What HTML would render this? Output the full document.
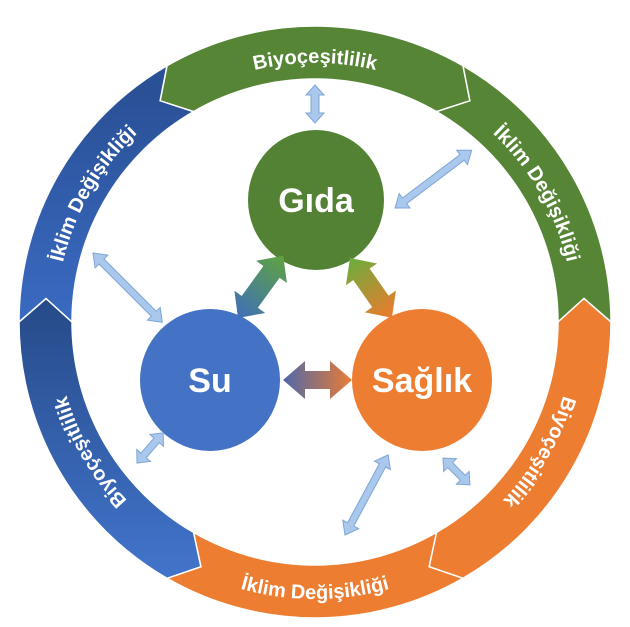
<!DOCTYPE html>
<html><head><meta charset="utf-8"><style>
html,body{margin:0;padding:0;background:#fff;}
svg{display:block;}
text{font-family:"Liberation Sans",sans-serif;font-weight:bold;fill:#fff;}
</style></head><body>
<svg width="630" height="627" viewBox="0 0 630 627" xmlns="http://www.w3.org/2000/svg">
<defs>
<linearGradient id="bU" x1="0" y1="322" x2="0" y2="90" gradientUnits="userSpaceOnUse"><stop offset="0" stop-color="#3a6bc2"/><stop offset="1" stop-color="#2a5096"/></linearGradient>
<linearGradient id="bL" x1="0" y1="300" x2="0" y2="560" gradientUnits="userSpaceOnUse"><stop offset="0" stop-color="#264a88"/><stop offset="1" stop-color="#4072c8"/></linearGradient>
<linearGradient id="g7" x1="0" y1="0" x2="77" y2="0" gradientUnits="userSpaceOnUse"><stop offset="0" stop-color="#3f6fba"/><stop offset="1" stop-color="#5fa340"/></linearGradient>
<linearGradient id="g8" x1="0" y1="0" x2="73" y2="0" gradientUnits="userSpaceOnUse"><stop offset="0" stop-color="#6aae3e"/><stop offset="1" stop-color="#ef7a2c"/></linearGradient>
<linearGradient id="g9" x1="0" y1="0" x2="69" y2="0" gradientUnits="userSpaceOnUse"><stop offset="0" stop-color="#5068a8"/><stop offset="1" stop-color="#e87c35"/></linearGradient>
<path id="pTop" d="M185.5,97.6 A259,259 0 0 1 444.5,97.6"/>
<path id="pRU" d="M444.5,97.6 A259,259 0 0 1 574,322"/>
<path id="pRL" d="M574,322 A259,259 0 0 1 444.5,546.3"/>
<path id="pLL" d="M185.5,546.3 A259,259 0 0 1 56,322"/>
<path id="pLU" d="M56,322 A259,259 0 0 1 185.5,97.6"/>
<path id="pBot" d="M176.5,561.9 A277,277 0 0 0 453.5,561.9"/>
</defs>
<g stroke="#fff" stroke-width="1.5">
<path fill="#568536" d="M167,65.7 A296,296 0 0 1 463,65.7 L469.9,100.8 L436.5,111.6 A243,243 0 0 0 193.5,111.6 L160.1,100.8 Z"/>
<path fill="#568536" d="M463,65.7 A296,296 0 0 1 611,322 L584,298.5 L558,322 A243,243 0 0 0 436.5,111.6 L469.9,100.8 Z"/>
<path fill="#ed7d31" d="M611,322 A296,296 0 0 1 463,578.3 L429.1,566.7 L436.5,532.4 A243,243 0 0 0 558,322 L584,298.5 Z"/>
<path fill="#ed7d31" d="M463,578.3 A296,296 0 0 1 167,578.3 L200.9,566.7 L193.5,532.4 A243,243 0 0 0 436.5,532.4 L429.1,566.7 Z"/>
<path fill="url(#bL)" d="M167,578.3 A296,296 0 0 1 19,322 L46,298.5 L72,322 A243,243 0 0 0 193.5,532.4 L200.9,566.7 Z"/>
<path fill="url(#bU)" d="M19,322 A296,296 0 0 1 167,65.7 L160.1,100.8 L193.5,111.6 A243,243 0 0 0 72,322 L46,298.5 Z"/>
</g>
<g font-size="20">
<text><textPath href="#pTop" startOffset="50%" text-anchor="middle">Biyoçeşitlilik</textPath></text>
<text><textPath href="#pRU" startOffset="50%" text-anchor="middle">İklim Değişikliği</textPath></text>
<text><textPath href="#pRL" startOffset="50%" text-anchor="middle">Biyoçeşitlilik</textPath></text>
<text><textPath href="#pLL" startOffset="50%" text-anchor="middle">Biyoçeşitlilik</textPath></text>
<text><textPath href="#pLU" startOffset="50%" text-anchor="middle">İklim Değişikliği</textPath></text>
<text><textPath href="#pBot" startOffset="50%" text-anchor="middle">İklim Değişikliği</textPath></text>
</g>
<ellipse cx="316" cy="200" rx="68" ry="70" fill="#548235"/>
<ellipse cx="210" cy="380" rx="70" ry="71" fill="#4472c4"/>
<ellipse cx="422" cy="380" rx="70" ry="71" fill="#ed7d31"/>
<text x="316" y="212" font-size="34" text-anchor="middle">Gıda</text>
<text x="210" y="392" font-size="34" text-anchor="middle">Su</text>
<text x="422" y="392" font-size="34" text-anchor="middle">Sağlık</text>
<g fill="#a9c8ec" stroke="#7ea6d8" stroke-width="1">
<polygon transform="translate(315,85) rotate(90)" points="0,0 10,-9 10,-4 28,-4 28,-9 38,0 28,9 28,4 10,4 10,9"/>
<polygon transform="translate(395,208) rotate(-37)" points="0,0 12,-9 12,-3.5 84,-3.5 84,-9 96,0 84,9 84,3.5 12,3.5 12,9"/>
<polygon transform="translate(93,253) rotate(45)" points="0,0 12,-9 12,-3.5 86,-3.5 86,-9 98,0 86,9 86,3.5 12,3.5 12,9"/>
<polygon transform="translate(137,463) rotate(-49)" points="0,0 10,-9 10,-3.5 30,-3.5 30,-9 40,0 30,9 30,3.5 10,3.5 10,9"/>
<polygon transform="translate(345,535) rotate(-61.7)" points="0,0 12,-9 12,-3.5 79,-3.5 79,-9 91,0 79,9 79,3.5 12,3.5 12,9"/>
<polygon transform="translate(443,458) rotate(45)" points="0,0 10,-9 10,-3.5 28,-3.5 28,-9 38,0 28,9 28,3.5 10,3.5 10,9"/>
</g>
<polygon fill="url(#g7)" transform="translate(238,318) rotate(-54)" points="0,0 20,-19 20,-10 57,-10 57,-19 77,0 57,19 57,10 20,10 20,19"/>
<polygon fill="url(#g8)" transform="translate(350,258) rotate(55)" points="0,0 20,-19 20,-10 53,-10 53,-19 73,0 53,19 53,10 20,10 20,19"/>
<polygon fill="url(#g9)" transform="translate(283,380)" points="0,0 22,-19 22,-9 47,-9 47,-19 69,0 47,19 47,9 22,9 22,19"/>
</svg>
</body></html>
